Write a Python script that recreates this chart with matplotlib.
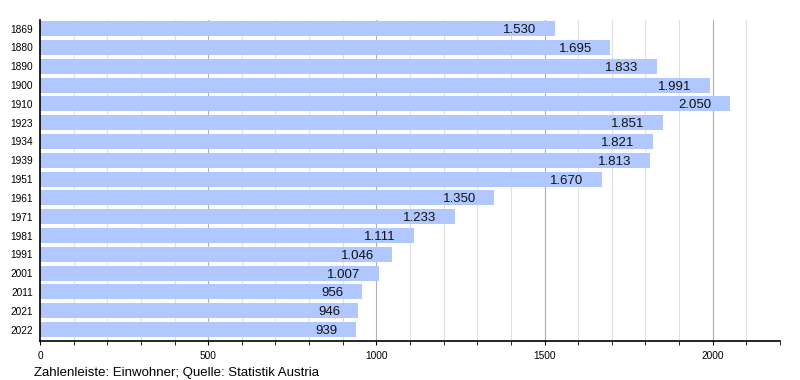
import numpy as np
import matplotlib.pyplot as plt

plt.rcParams['font.family'] = ['Liberation Sans', 'DejaVu Sans']

years = ['1869', '1880', '1890', '1900', '1910', '1923', '1934', '1939', '1951',
         '1961', '1971', '1981', '1991', '2001', '2011', '2021', '2022']
population = [1530, 1695, 1833, 1991, 2050, 1851, 1821, 1813, 1670,
              1350, 1233, 1111, 1046, 1007, 956, 946, 939]
value_labels = ['1.530', '1.695', '1.833', '1.991', '2.050', '1.851', '1.821', '1.813', '1.670',
                '1.350', '1.233', '1.111', '1.046', '1.007', '956', '946', '939']

fig = plt.figure(figsize=(8, 3.8), dpi=100)
ax = fig.add_axes([0.05, 0.103, 0.925, 0.844])

y = np.arange(len(years))
# grid lines: light every 100, darker every 500
for v in range(100, 2201, 100):
    c = '#b0b0b0' if v % 500 == 0 else '#e0e0e0'
    ax.axvline(v, color=c, linewidth=0.8, zorder=0)

ax.barh(y, population, height=0.8, color='#b0c8ff', zorder=2)
for yi, v, lab in zip(y, population, value_labels):
    ax.annotate(lab, (v, yi), xytext=(-13, 0), textcoords='offset points',
                ha='right', va='center_baseline', fontsize=9.5, color='#111111', zorder=3)

ax.set_xlim(0, 2200)
ax.set_ylim(16.6, -0.45)
ax.set_yticks(y)
ax.set_yticklabels(years, fontsize=7.3)
ax.set_xticks([0, 500, 1000, 1500, 2000])
ax.set_xticklabels(['0', '500', '1000', '1500', '2000'], fontsize=7.3)
ax.set_xticks(range(0, 2201, 100), minor=True)
ax.tick_params(axis='y', length=0, pad=5)
ax.tick_params(axis='x', which='both', length=3, direction='out', pad=4)
for s in ['top', 'right']:
    ax.spines[s].set_visible(False)
ax.spines['left'].set_linewidth(1.2)
ax.spines['bottom'].set_linewidth(1.2)

fig.text(0.043, 0.01, 'Zahlenleiste: Einwohner; Quelle: Statistik Austria', fontsize=9.5)

fig.savefig('out.png', dpi=100)
